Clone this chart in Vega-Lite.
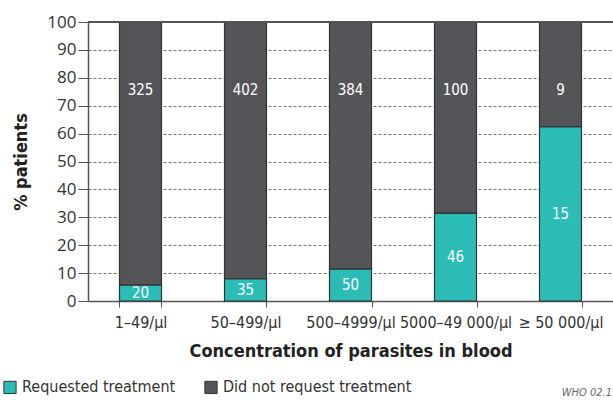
{
  "$schema": "https://vega.github.io/schema/vega-lite/v6.json",
  "width": 525,
  "height": 279,
  "autosize": {"type": "none"},
  "padding": {"left": 88, "top": 22, "right": 0, "bottom": 99},
  "background": "white",
  "config": {
    "view": {"stroke": null},
    "font": "DejaVu Sans Condensed, DejaVu Sans",
    "axisY": {
      "title": "% patients",
      "titleFontSize": 18,
      "titleFontWeight": "bold",
      "titleColor": "#222",
      "titlePadding": 16,
      "labelFont": "Open Sans",
      "labelFontSize": 17,
      "labelColor": "#333",
      "labelPadding": 2,
      "tickSize": 10,
      "tickColor": "#555",
      "domainColor": "#555",
      "domainWidth": 1.5,
      "grid": true,
      "gridDash": [3, 2],
      "gridColor": "#777",
      "gridWidth": 1
    }
  },
  "title": {
    "text": "WHO 02.1",
    "orient": "bottom",
    "anchor": "end",
    "frame": "group",
    "baseline": "top",
    "fontStyle": "italic",
    "fontWeight": "normal",
    "fontSize": 11,
    "color": "#666",
    "offset": -9,
    "dx": -1
  },
  "data": {
    "values": [
      {"conc": "1–49/μl", "group": "Requested treatment", "count": 20, "pct": 5.8},
      {"conc": "1–49/μl", "group": "Did not request treatment", "count": 325, "pct": 94.2},
      {"conc": "50–499/μl", "group": "Requested treatment", "count": 35, "pct": 8.0},
      {"conc": "50–499/μl", "group": "Did not request treatment", "count": 402, "pct": 92.0},
      {"conc": "500–4999/μl", "group": "Requested treatment", "count": 50, "pct": 11.5},
      {"conc": "500–4999/μl", "group": "Did not request treatment", "count": 384, "pct": 88.5},
      {"conc": "5000–49 000/μl", "group": "Requested treatment", "count": 46, "pct": 31.5},
      {"conc": "5000–49 000/μl", "group": "Did not request treatment", "count": 100, "pct": 68.5},
      {"conc": "≥ 50 000/μl", "group": "Requested treatment", "count": 15, "pct": 62.5},
      {"conc": "≥ 50 000/μl", "group": "Did not request treatment", "count": 9, "pct": 37.5}
    ]
  },
  "encoding": {
    "x": {
      "field": "conc",
      "type": "nominal",
      "sort": null,
      "scale": {"paddingInner": 0.6, "paddingOuter": 0.3},
      "axis": {
        "title": "Concentration of parasites in blood",
        "titleFontSize": 18,
        "titleFontWeight": "bold",
        "titleColor": "#222",
        "titlePadding": 12,
        "labelAngle": 0,
        "labelFontSize": 16,
        "labelColor": "#333",
        "labelPadding": 7,
        "tickBand": "extent",
        "tickSize": 6,
        "tickColor": "#555",
        "domainColor": "#555",
        "domainWidth": 1.5
      }
    }
  },
  "layer": [
    {
      "mark": {"type": "bar", "stroke": "#333", "strokeWidth": 1.2},
      "encoding": {
        "y": {
          "field": "pct",
          "type": "quantitative",
          "stack": "zero",
          "scale": {"domain": [0, 100], "nice": false},
          "axis": {"title": "% patients", "values": [0, 10, 20, 30, 40, 50, 60, 70, 80, 90, 100]}
        },
        "color": {
          "field": "group",
          "type": "nominal",
          "sort": ["Requested treatment", "Did not request treatment"],
          "scale": {
            "domain": ["Requested treatment", "Did not request treatment"],
            "range": ["#2bbcb6", "#545559"]
          },
          "legend": {
            "title": null,
            "orient": "none",
            "direction": "horizontal",
            "legendX": -86,
            "legendY": 357,
            "symbolType": "square",
            "symbolSize": 150,
            "symbolStrokeColor": "#333",
            "symbolStrokeWidth": 1,
            "labelFontSize": 16,
            "labelColor": "#333",
            "labelLimit": 0,
            "columnPadding": 26
          }
        },
        "order": {"field": "group", "sort": "descending"}
      }
    },
    {
      "mark": {"type": "rule", "color": "#555", "strokeWidth": 1.5},
      "encoding": {
        "y": {"datum": 100, "type": "quantitative", "axis": {"title": "% patients", "values": [0, 10, 20, 30, 40, 50, 60, 70, 80, 90, 100]}},
        "x": {"value": 0},
        "x2": {"value": 525}
      }
    },
    {
      "transform": [
        {"filter": "datum.group === 'Requested treatment'"},
        {"calculate": "datum.pct / 2", "as": "mid"}
      ],
      "mark": {"type": "text", "color": "white", "fontSize": 15, "baseline": "middle"},
      "encoding": {
        "y": {"field": "mid", "type": "quantitative", "axis": {"title": "% patients", "values": [0, 10, 20, 30, 40, 50, 60, 70, 80, 90, 100]}},
        "text": {"field": "count"}
      }
    },
    {
      "transform": [{"filter": "datum.group !== 'Requested treatment'"}],
      "mark": {"type": "text", "color": "white", "fontSize": 15, "baseline": "middle"},
      "encoding": {
        "y": {"datum": 75.5, "type": "quantitative", "axis": {"title": "% patients", "values": [0, 10, 20, 30, 40, 50, 60, 70, 80, 90, 100]}},
        "text": {"field": "count"}
      }
    }
  ]
}
